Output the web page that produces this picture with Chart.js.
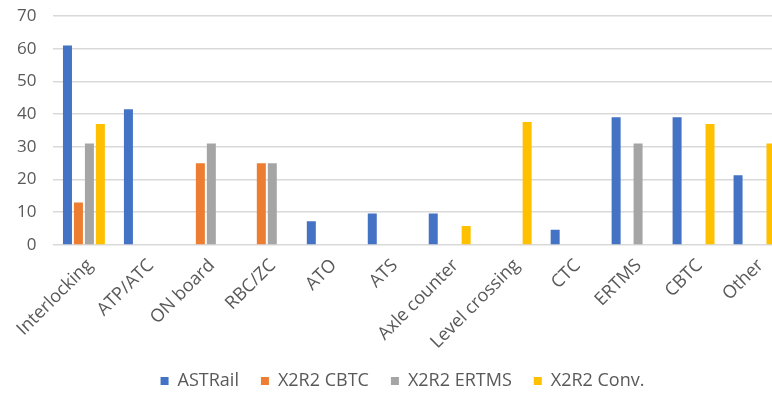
<!DOCTYPE html>
<html>
<head>
<meta charset="utf-8">
<script src="https://cdn.jsdelivr.net/npm/chart.js@4/dist/chart.umd.min.js"></script>
<style>
  html, body { margin: 0; padding: 0; background: #ffffff; overflow: hidden; }
  #wrap { width: 772px; height: 403px; overflow: hidden; }
</style>
</head>
<body>
<div id="wrap"><canvas id="c" width="803" height="403"></canvas></div>
<script>
// Subsystem categories
const categories = ['Interlocking', 'ATP/ATC', 'ON board', 'RBC/ZC', 'ATO', 'ATS',
  'Axle counter', 'Level crossing', 'CTC', 'ERTMS', 'CBTC', 'Other'];

// Series values per category (null = no bar)
const astrail    = [61, 41.5, null, null, 7.2, 9.6, 9.6, null, 4.6, 39, 39, 21.3];
const x2r2Cbtc   = [13, null, 25, 25, null, null, null, null, null, null, null, null];
const x2r2Ertms  = [31, null, 31, 25, null, null, null, null, null, 31, null, null];
const x2r2Conv   = [37, null, null, null, null, null, 5.8, 37.6, null, null, 37, 31];

const yTicks = [0, 10, 20, 30, 40, 50, 60, 70];

const FONT = "'Open Sans', 'Liberation Sans', sans-serif";
const TEXT = '#595959';

const mk = (label, data, color) => ({
  label, data, backgroundColor: color, borderWidth: 0,
  categoryPercentage: 0.72, barPercentage: 0.82
});

// Nudge the legend row sideways after layout
const legendShift = {
  id: 'legendShift',
  afterLayout(chart) {
    const lg = chart.legend;
    if (lg) { lg.left += 10; lg.right += 10; }
  }
};

new Chart(document.getElementById('c'), {
  type: 'bar',
  data: {
    labels: categories,
    datasets: [
      mk('ASTRail', astrail, '#4472C4'),
      mk('X2R2 CBTC', x2r2Cbtc, '#ED7D31'),
      mk('X2R2 ERTMS', x2r2Ertms, '#A5A5A5'),
      mk('X2R2 Conv.', x2r2Conv, '#FFC000')
    ]
  },
  plugins: [legendShift],
  options: {
    responsive: false,
    animation: false,
    layout: { padding: { left: 0, right: 18, top: 0, bottom: 3 } },
    plugins: {
      tooltip: { enabled: false },
      legend: {
        position: 'bottom',
        labels: {
          color: TEXT,
          font: { family: FONT, size: 18 },
          boxWidth: 8, boxHeight: 8,
          padding: 22
        }
      }
    },
    scales: {
      x: {
        grid: { display: false, drawTicks: false },
        border: { display: false },
        afterFit: (axis) => { axis.height -= 13; },
        ticks: {
          color: TEXT,
          font: { family: FONT, size: 18 },
          minRotation: 45, maxRotation: 45,
          labelOffset: 6,
          padding: 10
        }
      },
      y: {
        min: 0, max: 70,
        afterBuildTicks: (axis) => { axis.ticks = yTicks.map(v => ({ value: v })); },
        afterFit: (axis) => { axis.paddingTop = 16; },
        grid: { color: '#d9d9d9', lineWidth: 1.5, drawTicks: false },
        border: { display: false },
        ticks: {
          color: TEXT,
          font: { family: FONT, size: 17 },
          padding: 17
        }
      }
    }
  }
});
</script>
</body>
</html>
